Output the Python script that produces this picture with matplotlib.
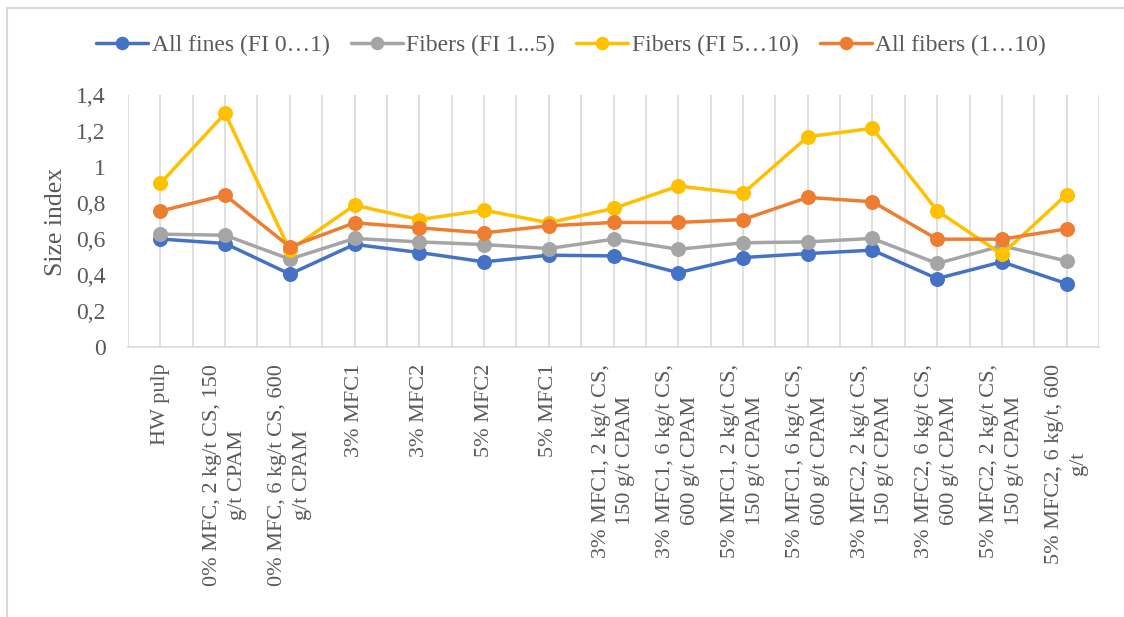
import matplotlib
matplotlib.use("Agg")
import matplotlib.pyplot as plt
from matplotlib.patches import Rectangle
from matplotlib.ticker import FixedLocator, FuncFormatter

plt.rcParams['font.family'] = ['Liberation Serif', 'DejaVu Serif']

categories = [
    "HW pulp",
    "0% MFC, 2 kg/t CS, 150\ng/t CPAM",
    "0% MFC, 6 kg/t CS, 600\ng/t CPAM",
    "3% MFC1",
    "3% MFC2",
    "5% MFC2",
    "5% MFC1",
    "3% MFC1, 2 kg/t CS,\n150 g/t CPAM",
    "3% MFC1, 6 kg/t CS,\n600 g/t CPAM",
    "5% MFC1, 2 kg/t CS,\n150 g/t CPAM",
    "5% MFC1, 6 kg/t CS,\n600 g/t CPAM",
    "3% MFC2, 2 kg/t CS,\n150 g/t CPAM",
    "3% MFC2, 6 kg/t CS,\n600 g/t CPAM",
    "5% MFC2, 2 kg/t CS,\n150 g/t CPAM",
    "5% MFC2, 6 kg/t, 600\ng/t",
]

all_fines = [0.60, 0.575, 0.405, 0.57, 0.525, 0.473, 0.51, 0.506, 0.413, 0.497, 0.519, 0.538, 0.38, 0.473, 0.352]
fibers_1_5 = [0.627, 0.621, 0.488, 0.603, 0.584, 0.569, 0.547, 0.599, 0.543, 0.579, 0.584, 0.603, 0.464, 0.562, 0.478]
fibers_5_10 = [0.909, 1.298, 0.538, 0.788, 0.708, 0.76, 0.69, 0.77, 0.894, 0.853, 1.168, 1.215, 0.757, 0.515, 0.847]
all_fibers = [0.755, 0.844, 0.556, 0.69, 0.662, 0.634, 0.673, 0.692, 0.692, 0.708, 0.831, 0.807, 0.599, 0.599, 0.656]

series = [
    ("All fines (FI 0…1)", all_fines, "#4472C4"),
    ("Fibers (FI 1...5)", fibers_1_5, "#A5A5A5"),
    ("Fibers (FI 5…10)", fibers_5_10, "#FFC000"),
    ("All fibers (1…10)", all_fibers, "#ED7D31"),
]

TEXT = '#595959'
W, H = 1124, 617
fig = plt.figure(figsize=(W / 100, H / 100), dpi=100)
ax = fig.add_axes([128 / W, 1 - 347 / H, (1099 - 128) / W, (347 - 95) / H])

x = list(range(len(categories)))
for name, vals, col in series:
    ax.plot(x, vals, color=col, lw=2.5, marker='o', markersize=10.8,
            markeredgewidth=0, label=name, solid_capstyle='round', zorder=3)

ax.set_xlim(-0.5, len(categories) - 0.5)
ax.set_ylim(0, 1.4)

# vertical gridlines at every category and every category boundary
ax.set_xticks(x)
ax.xaxis.set_minor_locator(FixedLocator([i + 0.5 for i in range(-1, len(categories))]))
ax.grid(True, which='both', axis='x', color='#D9D9D9', lw=1.2, zorder=0)
ax.set_xticklabels(categories, rotation=90, ha='center', va='top',
                   multialignment='center', fontsize=16, color=TEXT,
                   linespacing=1.4)
ax.tick_params(axis='x', which='both', length=0, pad=12)

ax.set_yticks([0, 0.2, 0.4, 0.6, 0.8, 1.0, 1.2, 1.4])
ax.yaxis.set_major_formatter(FuncFormatter(lambda v, p: f"{v:g}".replace('.', ',')))
ax.tick_params(axis='y', length=0, pad=16, labelsize=17, labelcolor=TEXT)

for side in ['top', 'right', 'left']:
    ax.spines[side].set_visible(False)
ax.spines['bottom'].set_color('#D9D9D9')
ax.spines['bottom'].set_linewidth(1.2)

fig.text(56 / W, 1 - 222 / H, "Size index", rotation=90, ha='center', va='center',
         fontsize=18.5, color=TEXT)

leg = fig.legend(loc='center', bbox_to_anchor=(571 / W, 1 - 45 / H), ncol=4,
                 frameon=False, fontsize=17, handlelength=2.2, handletextpad=0.15,
                 columnspacing=0.9, markerscale=0.9)
for t in leg.get_texts():
    t.set_color(TEXT)

# chart area border
fig.add_artist(Rectangle((7 / W, -0.2), 1.5, 1.2 - 8 / H, transform=fig.transFigure,
                         fill=False, edgecolor='#D9D9D9', lw=1.5))

fig.savefig("out.png", dpi=100, facecolor='white')
